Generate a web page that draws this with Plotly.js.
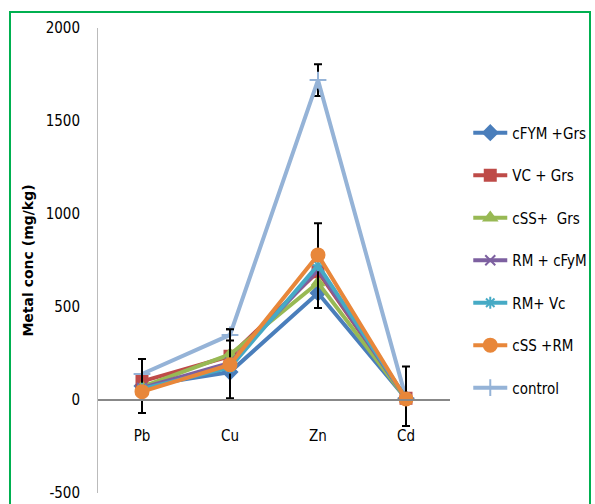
<!DOCTYPE html>
<html><head><meta charset="utf-8">
<script src="https://cdn.plot.ly/plotly-3.0.1.min.js"></script>
<style>
html,body{margin:0;padding:0;background:#fff;}
#wrap{position:relative;width:595px;height:504px;overflow:hidden;}
#chart{position:absolute;left:0;top:0;width:595px;height:504px;}
#frame{position:absolute;left:9px;top:11px;width:578px;height:520px;border:2px solid #00b050;pointer-events:none;}
</style></head>
<body><div id="wrap"><div id="chart"></div><div id="frame"></div></div>
<script>
const metals = ["Pb", "Cu", "Zn", "Cd"];
const cFYM_Grs = [75, 150, 575, 8];
const VC_Grs = [100, 235, 690, 10];
const cSS_Grs = [70, 245, 630, 8];
const RM_cFyM = [65, 200, 700, 10];
const RM_Vc = [60, 175, 725, 10];
const cSS_RM = [45, 190, 780, 5];
const control = [140, 350, 1720, 10];
const errPlusRMVc = [160, 205, 225, 170];
const errMinusRMVc = [130, 165, 230, 150];
const errControl = [0, 30, 85, 0];
const names = ["cFYM +Grs", "VC + Grs", "cSS+  Grs", "RM + cFyM", "RM+ Vc", "cSS +RM", "control"];
const yTicks = [-500, 0, 500, 1000, 1500, 2000];
const yTickText = ["-500", "0", "500", "1000", "1500", "2000"];

const colors = ["#4a7ebb", "#be4b48", "#98b954", "#7d60a0", "#46aac5", "#e8873a", "#95b3d7"];
const symbols = ["diamond", "square", "triangle-up", "x-thin-open", "asterisk-open", "circle", "cross-thin-open"];
const sizes = [11, 11, 11, 10, 10, 13, 12];
const series = [cFYM_Grs, VC_Grs, cSS_Grs, RM_cFyM, RM_Vc, cSS_RM, control];

const traces = series.map((ys, i) => {
  const t = {
    x: metals, y: ys, name: names[i], type: "scatter", mode: "lines+markers",
    legendgroup: "g" + i, legendrank: i + 1,
    line: {color: colors[i], width: 4},
    marker: {symbol: symbols[i], size: sizes[i], color: colors[i], line: {color: colors[i], width: 2}}
  };
  if (i === 4) {
    t.error_y = {type: "data", symmetric: false, array: errPlusRMVc, arrayminus: errMinusRMVc,
      color: "#000", thickness: 2, width: 4};
  }
  if (i === 6) {
    t.error_y = {type: "data", array: errControl, color: "#000", thickness: 2, width: 4};
  }
  return t;
});
const order = [6, 0, 1, 2, 3, 4, 5];
const data = order.map(i => traces[i]);

const fontFam = "'Liberation Sans Narrow', 'DejaVu Sans Condensed', 'Arial Narrow', 'Liberation Sans', Arial, sans-serif";
const layout = {
  width: 595, height: 504,
  margin: {l: 98, r: 145, t: 28, b: 11, autoexpand: false},
  paper_bgcolor: "#fff", plot_bgcolor: "#fff",
  font: {family: fontFam, size: 14, color: "#000"},
  showlegend: true,
  legend: {xref: "container", yref: "container", x: 0.787, y: 0.769, xanchor: "left", yanchor: "top",
    traceorder: "grouped", tracegroupgap: 20, bgcolor: "rgba(0,0,0,0)", maxheight: 420,
    font: {family: fontFam, size: 15, color: "#000"}, itemwidth: 34},
  xaxis: {
    type: "category", range: [-0.5, 3.5], anchor: "free", position: 0.2,
    showline: true, linecolor: "#888", linewidth: 2, showgrid: false, zeroline: false,
    ticks: "", ticklabelstandoff: 22, tickfont: {family: fontFam, size: 15, color: "#000"}
  },
  yaxis: {
    range: [-500, 2000], tickvals: yTicks, ticktext: yTickText,
    showline: true, linecolor: "#bbb", linewidth: 1, showgrid: false, zeroline: false,
    ticks: "", ticklabelstandoff: 14, tickfont: {family: fontFam, size: 15, color: "#000"},
    title: {text: "<b>Metal conc (mg/kg)</b>", standoff: 8,
      font: {family: "'DejaVu Sans', Verdana, sans-serif", size: 14, color: "#000"}}
  }
};
Plotly.newPlot("chart", data, layout, {displayModeBar: false, staticPlot: true});
</script></body></html>
